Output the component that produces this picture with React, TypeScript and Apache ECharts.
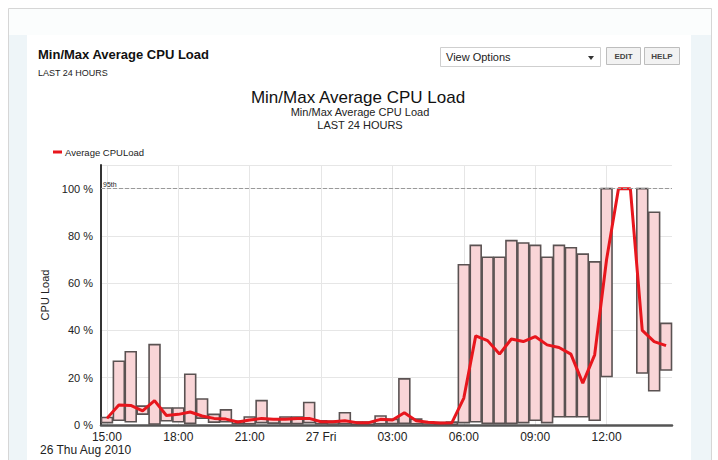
import React, { useEffect, useRef } from "react";
import * as echarts from "echarts";

// Half-hour buckets starting 15:00 (Thu 26 Aug 2010); a label every 6 buckets.
const TICK_LABELS = ["15:00", "18:00", "21:00", "27 Fri", "03:00", "06:00", "09:00", "12:00"];
const TICK_STEP = 6;
const DATE_LABEL = "26 Thu Aug 2010";
const PERCENTILE_95 = 100;

const MAX_LOAD = [
  3.2, 27, 31, 8, 34, 7.2, 7.2, 21.5, 11, 4.5, 6.4, 1.6,
  3.4, 10.3, 2.6, 3.4, 3.4, 9.5, 1.8, 1.6, 5.2, 1.2, 1.2, 3.8,
  2.4, 19.5, 2.5, 1.4, 1.0, 1.2, 67.8, 76, 71, 71, 78, 77,
  76, 71, 76, 75, 72.3, 69, 100, 100, 100, 100, 90, 43,
];
const MIN_LOAD = [
  1.0, 2.0, 1.4, 4.6, 0.4, 1.8, 1.4, 0.7, 2.9, 1.2, 1.4, 0.5,
  0.5, 1.0, 0.8, 0.6, 0.6, 1.0, 0.5, 0.4, 0.5, 0.3, 0.3, 0.5,
  0.6, 0.7, 0.5, 0.4, 0.3, 0.3, 1.0, 1.4, 0.7, 0.7, 0.7, 1.0,
  2.0, 1.0, 3.5, 3.5, 3.5, 2.0, 20.5, 100, 100, 22, 14.5, 23.3,
];
const AVG_LOAD = [
  2.8, 8.5, 8.3, 6, 10.3, 4, 4.5, 5.5, 3.8, 2.8, 2.5, 1.3,
  2.1, 2.8, 2.4, 2.4, 2.8, 2.8, 1.4, 1.4, 1.8, 1.0, 1.0, 2.4,
  2.1, 5.2, 1.8, 1.2, 0.8, 1.0, 11.4, 37.7, 35.7, 30, 36.4, 35.3,
  37.4, 33.9, 32.8, 30, 17.7, 29.7, 70, 100, 100, 40, 35.3, 33.6,
];

const FONT = "'Liberation Sans', Arial, sans-serif";

export default function App() {
  const ref = useRef<HTMLDivElement>(null);

  useEffect(() => {
    document.body.style.margin = "0";
    const chart = echarts.init(ref.current!, undefined, { renderer: "svg" });

    const boxData = MAX_LOAD.map((hi, i) => [i, MIN_LOAD[i], hi]);
    const avgData = AVG_LOAD.map((v, i) => [i, v]);

    chart.setOption({
      animation: false,
      textStyle: { fontFamily: FONT },
      grid: { left: 101, right: 46, top: 165, bottom: 35, containLabel: false, outerBoundsMode: "none" },
      legend: {
        left: 48,
        top: 142,
        data: ["Average CPULoad"],
        icon: "rect",
        itemWidth: 9,
        itemHeight: 3,
        itemGap: 4,
        textStyle: { fontSize: 9.5, color: "#222", fontFamily: FONT, padding: [0, 0, 0, -2] },
      },
      xAxis: {
        type: "value",
        min: -0.5,
        max: MAX_LOAD.length - 0.5,
        minInterval: TICK_STEP,
        maxInterval: TICK_STEP,
        splitNumber: 8,
        axisLine: { show: true, onZero: false, lineStyle: { color: "#555", width: 2.5 } },
        axisTick: { show: false },
        axisLabel: {
          fontSize: 12,
          color: "#222",
          margin: 6,
          showMinLabel: true,
          showMaxLabel: true,
          formatter: (v: number) => {
            const k = v / TICK_STEP;
            return Number.isInteger(k) && TICK_LABELS[k] ? TICK_LABELS[k] : "";
          },
        },
        splitLine: { show: true, showMinLine: false, showMaxLine: false, lineStyle: { color: "#e6e6e6", width: 1 } },
      },
      yAxis: {
        type: "value",
        min: 0,
        max: 110,
        interval: 20,
        name: "CPU Load",
        nameLocation: "middle",
        nameGap: 50,
        nameTextStyle: { fontSize: 11, color: "#222", fontFamily: FONT },
        axisLine: { show: true, onZero: false, lineStyle: { color: "#333", width: 2 } },
        axisTick: { show: false },
        axisLabel: {
          fontSize: 11,
          color: "#222",
          margin: 8,
          formatter: (v: number) => (v <= 100 ? `${v} %` : ""),
        },
        splitLine: { show: true, lineStyle: { color: "#e6e6e6", width: 1 } },
      },
      series: [
        {
          name: "Min/Max",
          type: "custom",
          data: boxData,
          encode: { x: 0, y: [1, 2] },
          renderItem: (params: any, api: any) => {
            const i = api.value(0);
            const lo = api.value(1);
            const hi = api.value(2);
            if (hi - lo <= 0) return null;
            const p1 = api.coord([i - 0.5, hi]);
            const p2 = api.coord([i + 0.5, lo]);
            return {
              type: "rect",
              shape: { x: p1[0] + 0.5, y: p1[1], width: p2[0] - p1[0] - 1, height: p2[1] - p1[1] },
              style: { fill: "#f9d5d7", stroke: "#5a5252", lineWidth: 1.6 },
            };
          },
          z: 2,
        },
        {
          name: "Average CPULoad",
          type: "line",
          data: avgData,
          symbol: "none",
          color: "#e8161d",
          lineStyle: { color: "#e8161d", width: 3 },
          z: 3,
          markLine: {
            silent: true,
            symbol: "none",
            lineStyle: { type: "dashed", color: "#999", width: 1 },
            label: {
              show: true,
              position: "insideStartTop",
              formatter: "95th",
              fontSize: 7,
              color: "#222",
              distance: [2, 1],
            },
            data: [{ yAxis: PERCENTILE_95 }],
          },
        },
      ],
      graphic: [
        {
          type: "rect",
          z: -10,
          shape: { x: 8.5, y: 8.5, width: 703, height: 460 },
          style: { fill: "#eef5f8", stroke: "#d6d6d6", lineWidth: 1 },
        },
        {
          type: "rect",
          z: -9,
          shape: { x: 9, y: 9, width: 702, height: 26 },
          style: { fill: "#fbfdfd" },
        },
        {
          type: "rect",
          z: -9,
          shape: { x: 27, y: 35, width: 664, height: 430 },
          style: { fill: "#ffffff" },
        },
        {
          type: "text",
          left: 38,
          top: 48,
          style: { text: "Min/Max Average CPU Load", font: `bold 13px ${FONT}`, fill: "#111" },
        },
        {
          type: "text",
          left: 38,
          top: 68,
          style: { text: "LAST 24 HOURS", font: `9px ${FONT}`, fill: "#222" },
        },
        {
          type: "rect",
          shape: { x: 440.5, y: 47.5, width: 160, height: 19 },
          style: { fill: "#fff", stroke: "#cfcfcf", lineWidth: 1 },
        },
        {
          type: "text",
          left: 446,
          top: 51,
          style: { text: "View Options", font: `11px ${FONT}`, fill: "#222" },
        },
        {
          type: "polygon",
          shape: { points: [[588, 56], [594, 56], [591, 60]] },
          style: { fill: "#333" },
        },
        {
          type: "rect",
          shape: { x: 606.5, y: 47.5, width: 34, height: 17 },
          style: { fill: "#f2f2f2", stroke: "#bdbdbd", lineWidth: 1 },
        },
        {
          type: "text",
          x: 623.5,
          y: 56,
          style: { text: "EDIT", font: `bold 8px ${FONT}`, fill: "#444", align: "center", verticalAlign: "middle" },
        },
        {
          type: "rect",
          shape: { x: 644.5, y: 47.5, width: 35, height: 17 },
          style: { fill: "#f2f2f2", stroke: "#bdbdbd", lineWidth: 1 },
        },
        {
          type: "text",
          x: 662,
          y: 56,
          style: { text: "HELP", font: `bold 8px ${FONT}`, fill: "#444", align: "center", verticalAlign: "middle" },
        },
        {
          type: "text",
          x: 358,
          y: 97,
          style: { text: "Min/Max Average CPU Load", font: `17px ${FONT}`, fill: "#111", align: "center", verticalAlign: "middle" },
        },
        {
          type: "text",
          x: 360,
          y: 112,
          style: { text: "Min/Max Average CPU Load", font: `11px ${FONT}`, fill: "#222", align: "center", verticalAlign: "middle" },
        },
        {
          type: "text",
          x: 360,
          y: 125,
          style: { text: "LAST 24 HOURS", font: `11px ${FONT}`, fill: "#222", align: "center", verticalAlign: "middle" },
        },
        {
          type: "text",
          left: 40,
          top: 444,
          style: { text: DATE_LABEL, font: `12px ${FONT}`, fill: "#222" },
        },
      ],
    });

    return () => chart.dispose();
  }, []);

  return <div ref={ref} style={{ width: 718, height: 460 }} />;
}
